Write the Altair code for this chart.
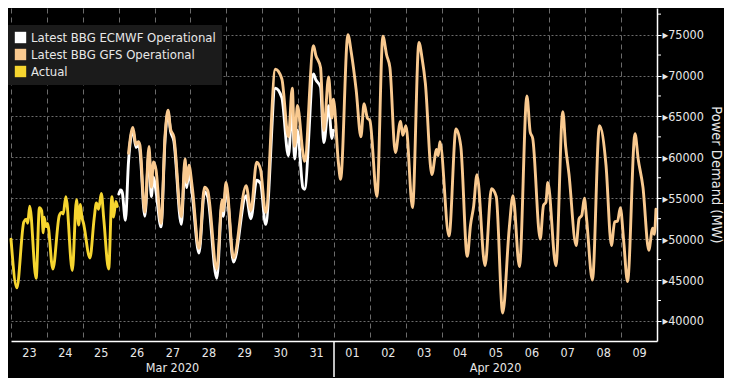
import json
import altair as alt
import pandas as pd

# ---- data (hours since 2020-03-23 00:00, power demand in MW) ----
actual_h = [0, 3.9, 8.6, 10.3, 11.2, 12.5, 16.8, 19.0, 20.5, 21.6, 22.2, 23.3, 24.4, 28.0,
            32.3, 33.9, 34.9, 36.7, 41.0, 43.8, 45.3, 46.4, 47.4, 48.5, 52.8, 55.6, 57.1,
            58.6, 60.4, 62.1, 65.3, 67.5, 68.6, 70.1, 71.1]
actual_v = [50000, 44040, 52120, 52430, 51930, 54040, 45200, 53850, 53470, 50780, 52690,
            51540, 51930, 46350, 52890, 53270, 53080, 55200, 46160, 54810, 51730, 54240,
            52690, 51930, 47700, 52500, 54420, 53660, 55580, 52310, 46350, 55200, 52690,
            54620, 54000]

ecmwf_h = [72.1, 73.4, 74.4, 76.5, 78.6, 81.5, 83.6, 85.2, 86.2, 89.5, 92.3, 93.8, 95.3,
           97.0, 100.3, 103.1, 105.0, 106.7, 108.9, 113.9, 116.4, 117.5, 119.0, 121.2,
           125.7, 129.4, 131.5, 137.6, 141.2, 141.9, 143.8, 148.8, 157.2, 160.4, 164.3,
           166.9, 170.3, 176.8, 181.1, 185.5, 188.1, 189.7, 191.5, 195.2, 196.3, 202.3,
           203.8, 207.0, 209.2, 212.4, 214.6, 215.6]
ecmwf_v = [55500, 56000, 55700, 52300, 59500, 63300, 61200, 61700, 60800, 52800, 60600,
           55200, 57600, 55800, 51500, 62400, 65500, 63200, 62000, 51800, 59000, 56300,
           58300, 55500, 48300, 55800, 55200, 45200, 54300, 52800, 56300, 47200, 55300,
           52500, 57200, 56800, 51800, 68450, 67300, 60200, 65900, 59800, 63300, 56300,
           56100, 70200, 69500, 68600, 61800, 66300, 62300, 63300]

gfs_h = [78.6, 81.5, 83.6, 85.2, 86.2, 89.5, 92.3, 93.8, 95.3, 97.0, 100.3, 103.1, 105.0,
         106.7, 108.9, 113.9, 116.4, 117.5, 119.0, 121.2, 125.7, 129.4, 131.5, 137.6,
         141.2, 141.9, 143.8, 148.8, 157.2, 160.4, 164.3, 166.9, 170.3, 176.8, 181.1,
         185.5, 188.1, 189.7, 191.5, 195.2, 196.3, 202.3, 203.8, 207.0, 209.2, 212.4,
         214.6, 215.6, 218.9, 220.4, 225.3, 227.5, 230.8, 234.0, 236.1, 238.3, 240.0,
         244.7, 248.7, 251.2, 253.4, 257.0, 260.5, 262.0, 264.1, 268.5, 272.8, 274.9,
         277.1, 281.4, 284.6, 285.7, 286.8, 292.9, 297.6, 300.8, 305.1, 307.3, 309.4,
         311.6, 317.0, 321.3, 324.5, 328.8, 333.2, 335.7, 340.0, 345.0, 347.2, 348.9,
         353.9, 356.1, 357.7, 359.0, 364.4, 369.0, 370.9, 373.1, 377.9, 379.9, 381.7,
         383.4, 384.9, 388.8, 393.5, 397.9, 401.5, 403.7, 405.6, 407.5, 409.7, 412.3,
         417.3, 419.4, 422.6, 426.5, 429.1, 430.2, 431.3]
gfs_v = [60500, 63650, 61540, 61920, 61500, 53270, 61340, 56350, 59430, 58460, 51930,
         62890, 65770, 63460, 62500, 52700, 59800, 56920, 59030, 56350, 48850, 56350,
         55970, 46350, 54810, 53460, 56920, 47700, 56540, 53500, 59400, 58500, 53270,
         70770, 69610, 62500, 68460, 61340, 66350, 60580, 59500, 73650, 72500, 70960,
         63270, 69810, 64800, 67110, 59430, 57310, 75000, 72880, 68270, 62500, 66540,
         64800, 64500, 55200, 74800, 72500, 70960, 60580, 64420, 62690, 63850, 53850,
         74030, 72120, 69040, 57880, 60960, 60200, 61920, 50380, 63460, 61340, 47890,
         51730, 54040, 57880, 46740, 56150, 55200, 40970, 51350, 55300, 46640, 67500,
         63100, 62310, 50000, 54140, 54500, 56920, 46740, 65580, 61340, 58000, 49230,
         52500, 52900, 55000, 52500, 45000, 63850, 59030, 49230, 52120, 52200, 53850,
         49810, 44810, 62890, 59810, 56350, 48650, 51350, 50580, 53650]

series_names = ["Latest BBG ECMWF Operational", "Latest BBG GFS Operational", "Actual"]
series_colors = ["#ffffff", "#f9c98f", "#f6d52f"]

day_labels = ["23", "24", "25", "26", "27", "28", "29", "30", "31",
              "01", "02", "03", "04", "05", "06", "07", "08", "09"]
day_starts = [24 * i for i in range(len(day_labels))]
y_ticks = [40000, 45000, 50000, 55000, 60000, 65000, 70000, 75000]
y_minor = [42500, 47500, 52500, 57500, 62500, 67500, 72500, 77500]
month_labels = ["Mar 2020", "Apr 2020"]
month_centers = [108, 324]
month_split = [216]

# ---- chart ----
W, H = 646, 333
FONT = '"DejaVu Sans Condensed", "Liberation Sans Narrow", "DejaVu Sans", sans-serif'
GRID = "#6b6b6b"
TXT = "#e8e8e8"

x_scale = alt.Scale(domain=[0, 432], nice=False, zero=False)
y_scale = alt.Scale(domain=[37550, 78250], nice=False, zero=False)
color_scale = alt.Scale(domain=series_names, range=series_colors)

df_a = pd.DataFrame({"h": actual_h, "v": actual_v, "series": series_names[2]})
df_e = pd.DataFrame({"h": ecmwf_h, "v": ecmwf_v, "series": series_names[0]})
df_g = pd.DataFrame({"h": gfs_h, "v": gfs_v, "series": series_names[1]})
df_all = pd.concat([df_e, df_g, df_a], ignore_index=True)

label_expr = json.dumps(day_labels) + "[round(datum.value / 24)]"

x_axis = alt.Axis(values=day_starts, labelExpr=label_expr, labelOffset=W / 36.0,
                  grid=True, gridDash=[5, 4], gridColor=GRID, gridWidth=1,
                  ticks=False, domainColor="white", domainWidth=1.5,
                  labelColor=TXT, labelFont=FONT, labelFontSize=12.5, labelPadding=5,
                  labelOverlap=False, labelFlush=False, labelBound=False, title=None)
y_axis = alt.Axis(orient="right", values=y_ticks, format="d",
                  grid=True, gridDash=[2, 2], gridColor=GRID, gridWidth=1,
                  tickColor="white", tickSize=4, domainColor="white", domainWidth=1.5,
                  labelColor=TXT, labelFont=FONT, labelFontSize=12.5, labelPadding=1,
                  labelExpr="'\u25b8' + datum.label", labelOverlap=False,
                  title="Power Demand (MW)", titleColor=TXT, titleFont=FONT,
                  titleFontSize=14.5, titleFontWeight="normal", titlePadding=5)

legend = alt.Legend(orient="none", legendX=-3, legendY=17, title=None,
                    symbolType="square", symbolSize=130, symbolOpacity=1,
                    symbolStrokeWidth=0, fillColor="#1b1b1b", padding=6, rowPadding=3,
                    labelColor=TXT, labelFont=FONT, labelFontSize=13, labelLimit=400)

X = alt.X("h:Q", scale=x_scale, axis=x_axis)
Y = alt.Y("v:Q", scale=y_scale, axis=y_axis)

legend_layer = alt.Chart(df_all).mark_square(opacity=0, size=1).encode(
    x=X, y=Y,
    color=alt.Color("series:N", scale=color_scale, legend=legend),
)


def line_layer(df):
    return alt.Chart(df).mark_line(strokeWidth=2.9, interpolate="monotone",
                                   strokeJoin="round", strokeCap="round").encode(
        x=X, y=Y,
        color=alt.Color("series:N", scale=color_scale, legend=None),
    )


minor_ticks = alt.Chart(pd.DataFrame({"v": y_minor})).mark_rule(
    color="white", strokeWidth=1).encode(
    y=Y, x=alt.value(W), x2=alt.value(W + 4))

separator = alt.Chart(pd.DataFrame({"h": month_split})).mark_rule(
    color="white", strokeWidth=1.5).encode(
    x=X, y=alt.value(H), y2=alt.value(H + 36))

months = alt.Chart(pd.DataFrame({"h": month_centers, "label": month_labels})).mark_text(
    color=TXT, font=FONT, fontSize=12.5, baseline="middle").encode(
    x=X, y=alt.value(H + 27), text="label:N")

chart = alt.layer(
    legend_layer, line_layer(df_e), line_layer(df_g), line_layer(df_a),
    minor_ticks, separator, months
).properties(width=W, height=H, padding=0, background="black").configure_view(
    stroke=None)

chart.save("out.html", embed_options={"renderer": "svg", "actions": False})
